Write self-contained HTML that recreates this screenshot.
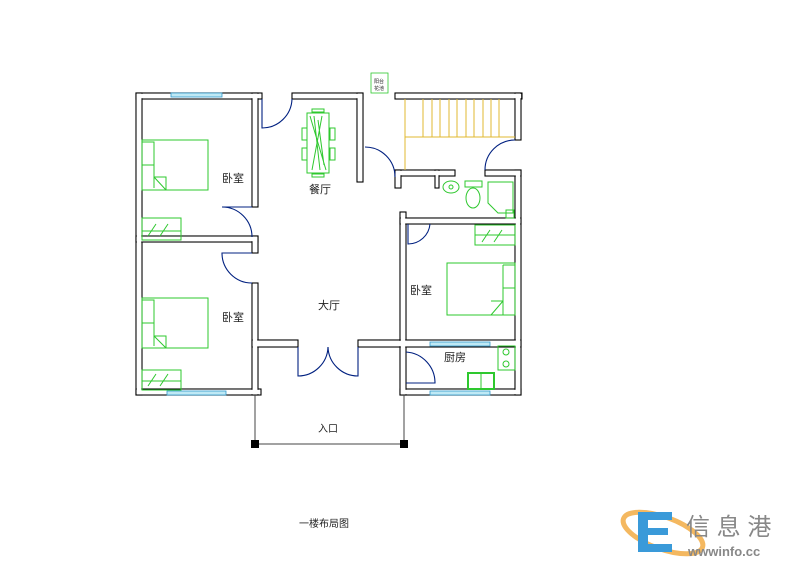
<!DOCTYPE html>
<html><head><meta charset="utf-8"><style>
html,body{margin:0;padding:0;background:#fff;width:800px;height:565px;overflow:hidden}
svg{display:block}
text{font-family:"Liberation Sans","Noto Sans CJK SC",sans-serif;}
</style></head><body>
<svg width="800" height="565" viewBox="0 0 800 565" xmlns="http://www.w3.org/2000/svg">
<defs>
<g id="walls">
<rect x="136" y="93" width="126" height="6"/>
<rect x="292" y="93" width="71" height="6"/>
<rect x="395" y="93" width="127" height="6"/>
<rect x="136" y="93" width="6" height="302"/>
<rect x="136" y="389" width="125" height="6"/>
<rect x="400" y="389" width="121" height="6"/>
<rect x="515" y="93" width="6" height="47"/>
<rect x="515" y="170" width="6" height="225"/>
<rect x="485" y="170" width="36" height="6"/>
<rect x="252" y="93" width="6" height="114"/>
<rect x="136" y="236" width="122" height="6"/>
<rect x="252" y="236" width="6" height="17"/>
<rect x="252" y="283" width="6" height="112"/>
<rect x="252" y="340" width="46" height="7"/>
<rect x="358" y="340" width="48" height="7"/>
<rect x="357" y="93" width="6" height="89"/>
<rect x="395" y="170" width="60" height="6"/>
<rect x="395" y="170" width="6" height="18"/>
<rect x="400" y="212" width="6" height="183"/>
<rect x="400" y="340" width="121" height="7"/>
<rect x="400" y="218" width="121" height="6"/>
<rect x="435" y="170" width="4" height="18"/>
</g>
</defs>
<use href="#walls" fill="#fff" stroke="#000" stroke-width="1.1"/>
<g fill="#fff" stroke="none" transform="translate(0.7 0.7)"><use href="#walls" transform="translate(-0.7 -0.7) translate(0 0)" opacity="0"/></g>
<g fill="#fff" stroke="#fff" stroke-width="0" >
<rect x="136.8" y="93.8" width="124.4" height="4.4"/>
<rect x="292.8" y="93.8" width="69.4" height="4.4"/>
<rect x="395.8" y="93.8" width="125.4" height="4.4"/>
<rect x="136.8" y="93.8" width="4.4" height="300.4"/>
<rect x="136.8" y="389.8" width="123.4" height="4.4"/>
<rect x="400.8" y="389.8" width="119.4" height="4.4"/>
<rect x="515.8" y="93.8" width="4.4" height="45.4"/>
<rect x="515.8" y="170.8" width="4.4" height="223.4"/>
<rect x="485.8" y="170.8" width="34.4" height="4.4"/>
<rect x="252.8" y="93.8" width="4.4" height="112.4"/>
<rect x="136.8" y="236.8" width="120.4" height="4.4"/>
<rect x="252.8" y="236.8" width="4.4" height="15.4"/>
<rect x="252.8" y="283.8" width="4.4" height="110.4"/>
<rect x="252.8" y="340.8" width="44.4" height="5.4"/>
<rect x="358.8" y="340.8" width="46.4" height="5.4"/>
<rect x="357.8" y="93.8" width="4.4" height="87.4"/>
<rect x="395.8" y="170.8" width="58.4" height="4.4"/>
<rect x="395.8" y="170.8" width="4.4" height="16.4"/>
<rect x="400.8" y="212.8" width="4.4" height="181.4"/>
<rect x="400.8" y="340.8" width="119.4" height="5.4"/>
<rect x="400.8" y="218.8" width="119.4" height="4.4"/>
<rect x="435.8" y="170.8" width="2.4" height="16.4"/>
</g>
<!-- windows -->
<g stroke="#39c" fill="#bfe9f5" stroke-width="0.8">
<rect x="171" y="93" width="51" height="4"/>
<rect x="167" y="391" width="59" height="4"/>
<rect x="430" y="342" width="60" height="4"/>
<rect x="430" y="391" width="60" height="4"/>
</g>
<!-- doors -->
<g fill="none" stroke="#002080" stroke-width="1.1">
<path d="M262 99 V128 A30 30 0 0 0 292 99"/>
<path d="M252 207 H222 A30 30 0 0 1 252 237"/>
<path d="M252 253 H222 A30 30 0 0 0 252 283"/>
<path d="M298 347 V376 A30 30 0 0 0 328 347"/>
<path d="M358 347 V376 A30 30 0 0 1 328 347"/>
<path d="M365 147 A30 30 0 0 1 395 177"/>
<path d="M515 140 A30 30 0 0 0 485 170"/>
<path d="M408 224 V244 A22 22 0 0 0 430 224"/>
<path d="M406 383 H435 A31 31 0 0 0 406 352"/>
</g>
<!-- stairs -->
<g stroke="#e0b830" stroke-width="1" fill="none">
<path d="M405 99 V170 M405 137 H515"/>
<path d="M423 99V137 M432 99V137 M440 99V137 M449 99V137 M457 99V137 M466 99V137 M474 99V137 M483 99V137 M491 99V137 M499 99V137"/>
</g>
<!-- green furniture -->
<g stroke="#2ec82e" fill="none" stroke-width="1">
<rect x="142" y="140" width="66" height="50"/>
<path d="M142 142 H154 V188 M142 165 H154 M154 177 H166 V190 M154 177 L166 190"/>
<rect x="142" y="298" width="66" height="50"/>
<path d="M142 300 H154 V346 M142 323 H154 M154 336 H166 V348 M154 336 L166 348"/>
<rect x="142" y="218" width="39" height="22"/>
<path d="M142 231 H181 M148 236 L156 224 M160 236 L168 224"/>
<rect x="142" y="370" width="39" height="20"/>
<path d="M142 381 H181 M148 386 L156 374 M160 386 L168 374"/>
<rect x="447" y="263" width="68" height="52"/>
<path d="M503 265 H515 M503 265 V313 M503 288 H515 M491 301 H503 V315 M491 315 L503 301"/>
<rect x="475" y="225" width="40" height="20"/>
<path d="M475 235 H515 M482 242 L490 230 M494 242 L502 230"/>
<rect x="307" y="113" width="22" height="60"/>
<path d="M310 116 L326 170 M314 116 L320 170 M322 116 L312 170 M318 120 L324 165"/>
<rect x="302" y="128" width="5" height="12"/><rect x="302" y="148" width="5" height="12"/>
<rect x="330" y="128" width="5" height="12"/><rect x="330" y="148" width="5" height="12"/>
<rect x="312" y="109" width="12" height="3"/><rect x="312" y="174" width="12" height="3"/>
<ellipse cx="451" cy="187" rx="8" ry="6"/><circle cx="451" cy="187" r="2"/>
<rect x="465" y="181" width="17" height="6"/>
<ellipse cx="473" cy="198" rx="7" ry="10"/>
<path d="M488 182 H513 V213 H498 L488 203 Z"/>
<rect x="506" y="210" width="8" height="8"/>
<rect x="498" y="346" width="17" height="24"/>
<circle cx="506" cy="352" r="3"/><circle cx="506" cy="364" r="3"/>
<rect x="468" y="373" width="26" height="16" stroke-width="2"/>
<path d="M481 374 V389"/>
<rect x="371" y="73" width="17" height="20" stroke-width="0.8"/>
</g>
<!-- dimension line -->
<g stroke="#444" stroke-width="1">
<path d="M255 395 V444 M404 395 V444 M255 444 H404"/>
</g>
<rect x="251" y="440" width="8" height="8" fill="#000"/>
<rect x="400" y="440" width="8" height="8" fill="#000"/>
<!-- labels -->
<g font-size="11" fill="#222">
<text x="222" y="182">卧室</text>
<text x="309" y="193">餐厅</text>
<text x="222" y="321">卧室</text>
<text x="318" y="309">大厅</text>
<text x="410" y="294">卧室</text>
<text x="444" y="361">厨房</text>
<text x="318" y="432" font-size="10">入口</text>
<text x="299" y="527" font-size="10">一楼布局图</text>
<text x="374" y="83" font-size="5">阳台</text>
<text x="374" y="90" font-size="5">花池</text>
</g>
<!-- watermark -->
<ellipse cx="663" cy="533" rx="42" ry="16" fill="none" stroke="#f4b860" stroke-width="5" transform="rotate(20 663 533)"/>
<path d="M672 512 H638 V552 H672 V544 H648 V535 H668 V528 H648 V520 H672 Z" fill="#3a9ad9"/>
<text x="686" y="535" font-size="24" fill="#888">信 息 港</text>
<text x="688" y="556" font-size="13" fill="#888" font-weight="bold">wwwinfo.cc</text>
</svg>
</body></html>
